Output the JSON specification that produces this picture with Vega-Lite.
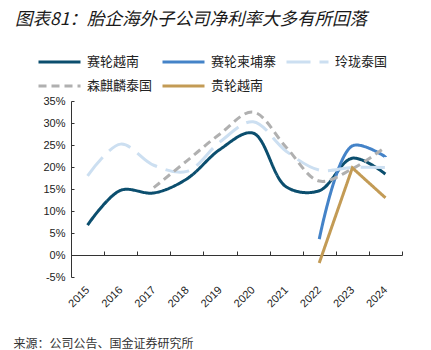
{
  "$schema": "https://vega.github.io/schema/vega-lite/v6.json",
  "width": 331,
  "height": 176,
  "autosize": {"type": "none"},
  "padding": {"left": 71, "top": 101, "right": 29, "bottom": 73},
  "background": "white",
  "config": {
    "view": {"stroke": null},
    "font": "Liberation Sans"
  },
  "title": {
    "text": "图表81：胎企海外子公司净利率大多有所回落",
    "anchor": "start",
    "frame": "group",
    "font": "Noto Sans CJK SC",
    "fontSize": 17.5,
    "fontStyle": "italic",
    "fontWeight": "normal",
    "color": "#1a1a1a",
    "dx": -56,
    "offset": 22
  },
  "data": {
    "values": [
      {"year": "2015", "series": "赛轮越南", "value": 0.068},
      {"year": "2016", "series": "赛轮越南", "value": 0.147},
      {"year": "2017", "series": "赛轮越南", "value": 0.141},
      {"year": "2018", "series": "赛轮越南", "value": 0.173},
      {"year": "2019", "series": "赛轮越南", "value": 0.240},
      {"year": "2020", "series": "赛轮越南", "value": 0.277},
      {"year": "2021", "series": "赛轮越南", "value": 0.155},
      {"year": "2022", "series": "赛轮越南", "value": 0.146},
      {"year": "2023", "series": "赛轮越南", "value": 0.220},
      {"year": "2024", "series": "赛轮越南", "value": 0.184},
      {"year": "2022", "series": "赛轮柬埔寨", "value": 0.036},
      {"year": "2023", "series": "赛轮柬埔寨", "value": 0.248},
      {"year": "2024", "series": "赛轮柬埔寨", "value": 0.223},
      {"year": "2015", "series": "玲珑泰国", "value": 0.180},
      {"year": "2016", "series": "玲珑泰国", "value": 0.252},
      {"year": "2017", "series": "玲珑泰国", "value": 0.204},
      {"year": "2018", "series": "玲珑泰国", "value": 0.190},
      {"year": "2019", "series": "玲珑泰国", "value": 0.257},
      {"year": "2020", "series": "玲珑泰国", "value": 0.303},
      {"year": "2021", "series": "玲珑泰国", "value": 0.236},
      {"year": "2022", "series": "玲珑泰国", "value": 0.193},
      {"year": "2023", "series": "玲珑泰国", "value": 0.199},
      {"year": "2024", "series": "玲珑泰国", "value": 0.199},
      {"year": "2017", "series": "森麒麟泰国", "value": 0.153},
      {"year": "2018", "series": "森麒麟泰国", "value": 0.214},
      {"year": "2019", "series": "森麒麟泰国", "value": 0.275},
      {"year": "2020", "series": "森麒麟泰国", "value": 0.325},
      {"year": "2021", "series": "森麒麟泰国", "value": 0.245},
      {"year": "2022", "series": "森麒麟泰国", "value": 0.168},
      {"year": "2023", "series": "森麒麟泰国", "value": 0.196},
      {"year": "2024", "series": "森麒麟泰国", "value": 0.245},
      {"year": "2022", "series": "贵轮越南", "value": -0.018},
      {"year": "2023", "series": "贵轮越南", "value": 0.198},
      {"year": "2024", "series": "贵轮越南", "value": 0.130}
    ]
  },
  "encoding": {
    "x": {
      "field": "year",
      "type": "ordinal",
      "scale": {"type": "band", "paddingInner": 0, "paddingOuter": 0},
      "axis": {
        "title": "来源：公司公告、国金证券研究所",
        "titleFont": "Noto Sans CJK SC",
        "titleFontSize": 12,
        "titleFontWeight": "normal",
        "titleColor": "#333333",
        "titleAnchor": "start",
        "titleAlign": "left",
        "titleBaseline": "middle",
        "titleX": -58,
        "titleY": 88,
        "offset": -22,
        "tickBand": "extent",
        "tickSize": -4,
        "tickColor": "#333333",
        "domainColor": "#333333",
        "labelAngle": -45,
        "labelAlign": "right",
        "labelBaseline": "middle",
        "labelPadding": 37,
        "labelFontSize": 11,
        "labelColor": "#222222",
        "grid": false
      }
    },
    "y": {
      "field": "value",
      "type": "quantitative",
      "scale": {"domain": [-0.05, 0.35], "nice": false, "zero": false},
      "axis": {
        "title": null,
        "values": [-0.05, 0, 0.05, 0.1, 0.15, 0.2, 0.25, 0.3, 0.35],
        "format": ".0%",
        "labelExpr": "replace(datum.label, '−', '-')",
        "grid": false,
        "tickSize": -3,
        "tickColor": "#333333",
        "domainColor": "#333333",
        "labelPadding": 9,
        "labelFontSize": 11,
        "labelColor": "#222222"
      }
    },
    "color": {
      "field": "series",
      "type": "nominal",
      "scale": {
        "domain": ["赛轮越南", "赛轮柬埔寨", "玲珑泰国", "森麒麟泰国", "贵轮越南"],
        "range": ["#0B4E6E", "#4483C8", "#CCDFF1", "#B0B0B0", "#C39B55"]
      },
      "legend": {
        "title": null,
        "orient": "none",
        "legendX": -34,
        "legendY": -51,
        "direction": "horizontal",
        "columns": 3,
        "gridAlign": "all",
        "columnPadding": 3,
        "rowPadding": 5,
        "symbolType": "M-1,0H3",
        "symbolSize": 441,
        "symbolStrokeWidth": 3,
        "symbolFillColor": "transparent",
        "labelFont": "Noto Sans CJK SC",
        "labelFontSize": 13,
        "labelColor": "#222222",
        "labelOffset": 26
      }
    },
    "strokeDash": {
      "field": "series",
      "type": "nominal",
      "scale": {
        "domain": ["赛轮越南", "赛轮柬埔寨", "玲珑泰国", "森麒麟泰国", "贵轮越南"],
        "range": [[1, 0], [1, 0], [24, 9], [8, 5], [1, 0]]
      },
      "legend": {
        "title": null,
        "orient": "none",
        "legendX": -34,
        "legendY": -51,
        "direction": "horizontal",
        "columns": 3,
        "gridAlign": "all",
        "columnPadding": 3,
        "rowPadding": 5,
        "symbolType": "M-1,0H3",
        "symbolSize": 441,
        "symbolStrokeWidth": 3,
        "symbolFillColor": "transparent",
        "labelFont": "Noto Sans CJK SC",
        "labelFontSize": 13,
        "labelColor": "#222222",
        "labelOffset": 26
      }
    }
  },
  "layer": [
    {
      "transform": [{"filter": "datum.series !== '贵轮越南'"}],
      "mark": {"type": "line", "interpolate": "catmull-rom", "strokeWidth": 3}
    },
    {
      "transform": [{"filter": "datum.series === '贵轮越南'"}],
      "mark": {"type": "line", "interpolate": "linear", "strokeWidth": 3}
    }
  ]
}
